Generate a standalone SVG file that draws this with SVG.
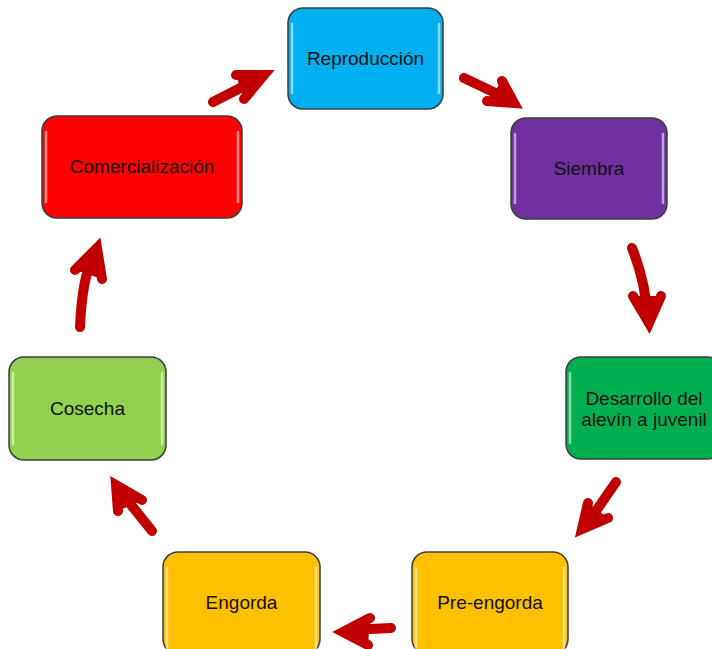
<svg xmlns="http://www.w3.org/2000/svg" width="712" height="649" viewBox="0 0 712 649">
<style>
.box{stroke:#3c3c3c;stroke-width:1.5}
.hl{stroke:#ffffff;stroke-opacity:0.55;stroke-width:2.5;stroke-linecap:round;fill:none}
.lbl{font-family:"Liberation Sans",Arial,sans-serif;font-size:19px;fill:#111;text-anchor:middle}
.shaft{fill:none;stroke:#c00000;stroke-width:10;stroke-linecap:round}
.head{fill:#c00000;stroke:#c00000;stroke-width:10;stroke-linecap:round;stroke-linejoin:miter;stroke-miterlimit:10}
</style>
<rect width="712" height="649" fill="#ffffff"/>
<g id="reproduccion">
<rect class="box" x="288" y="8" width="155" height="101" rx="15" fill="#00b0f0"/>
<path class="hl" d="M292,24 V93 M439,24 V93"/>
<text class="lbl" x="365.5" y="65">Reproducción</text>
</g>
<g id="siembra">
<rect class="box" x="511" y="118" width="156" height="101" rx="15" fill="#7030a0"/>
<path class="hl" d="M515,134 V203 M663,134 V203"/>
<text class="lbl" x="589" y="175">Siembra</text>
</g>
<g id="desarrollo">
<rect class="box" x="566" y="357" width="156" height="102" rx="15" fill="#00b050"/>
<path class="hl" d="M570,373 V443"/>
<text class="lbl" x="644" y="405">Desarrollo del</text>
<text class="lbl" x="644" y="426">alevín a juvenil</text>
</g>
<g id="preengorda">
<rect class="box" x="412" y="552" width="156" height="102" rx="15" fill="#ffc000"/>
<path class="hl" d="M416,568 V649 M564,568 V649"/>
<text class="lbl" x="490" y="609">Pre-engorda</text>
</g>
<g id="engorda">
<rect class="box" x="163" y="552" width="157" height="102" rx="15" fill="#ffc000"/>
<path class="hl" d="M167,568 V649 M316,568 V649"/>
<text class="lbl" x="241.5" y="609">Engorda</text>
</g>
<g id="cosecha">
<rect class="box" x="9" y="357" width="157" height="103" rx="15" fill="#92d050"/>
<path class="hl" d="M13,373 V444 M162,373 V444"/>
<text class="lbl" x="87.5" y="415">Cosecha</text>
</g>
<g id="comercializacion">
<rect class="box" x="42" y="116" width="200" height="102" rx="15" fill="#ff0000"/>
<path class="hl" d="M46,132 V202 M238,132 V202"/>
<text class="lbl" x="142" y="173">Comercialización</text>
</g>
<g id="connectors">
<path class="shaft" d="M213,102 L258,79"/>
<path class="head" d="M236,75 L264,75 L244,99"/>
<path class="shaft" d="M464,78 L508,99"/>
<path class="head" d="M502,81 L514,103 L487,101"/>
<path class="shaft" d="M632,248 Q645,280 648,318"/>
<path class="head" d="M633,296 L649,323 L661,296"/>
<path class="shaft" d="M616,482 L587,524"/>
<path class="head" d="M588,503 L582,529 L608,518"/>
<path class="shaft" d="M391,628 L350,630"/>
<path class="head" d="M370,618 L343,632 L368,645"/>
<path class="shaft" d="M152,531 L120,491"/>
<path class="head" d="M142,500 L116,485 L118,511"/>
<path class="shaft" d="M80,327 Q82,278 94,254"/>
<path class="head" d="M75,270 L97,248 L102,279"/>
</g>
</svg>
